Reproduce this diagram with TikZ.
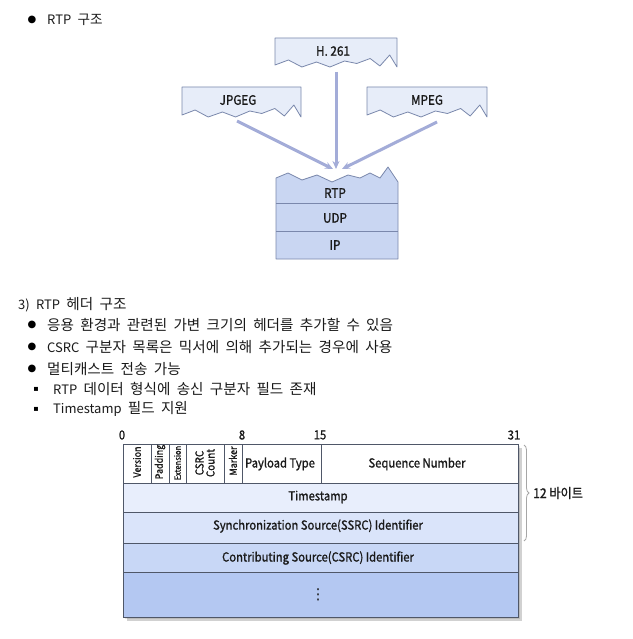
\documentclass[tikz,border=0pt]{standalone}
\usepackage{fontspec}
\setmainfont{Noto Sans CJK KR}
\newfontfamily\kr{Noto Sans CJK KR}
\newfontfamily\dg[FakeStretch=0.9,FakeBold=1.2]{Noto Sans CJK KR}
\newfontfamily\sym{DejaVu Sans}
\newcommand\latn[1]{{\fontsize{13}{15}\selectfont #1}}
\newcommand\bodyfont{\kr\fontsize{14.6}{17}\selectfont\spaceskip 6.3pt\relax}
\usetikzlibrary{arrows.meta,decorations.pathreplacing}
\definecolor{boxline}{HTML}{7A88AC}
\definecolor{topfill}{HTML}{E7EDF9}
\definecolor{stackfill}{HTML}{C9D6F2}
\definecolor{arrowc}{HTML}{A3ACD8}
\definecolor{tline}{HTML}{4F5768}
\definecolor{rowA}{HTML}{E8EEFC}
\definecolor{rowB}{HTML}{DAE4FA}
\definecolor{rowC}{HTML}{C8D7F6}
\definecolor{rowD}{HTML}{B4C8F2}
\definecolor{txt}{HTML}{1A1A1A}
\tikzset{
  bodytext/.style={anchor=west,inner sep=0pt,font=\bodyfont,text=txt},
  bul/.style={inner sep=0pt,font=\sym\fontsize{10}{12}\selectfont},
  sqbul/.style={inner sep=0pt,font=\sym\fontsize{8}{10}\selectfont},
  lbl/.style={inner sep=0pt,font=\dg\fontsize{13}{15}\selectfont,text=txt},
  tlbl/.style={inner sep=0pt,font=\dg\fontsize{12.5}{14}\selectfont,text=txt},
  rlbl/.style={inner sep=0pt,rotate=90,font=\dg\fontsize{10}{9.5}\selectfont,text=txt,align=center},
  numlbl/.style={inner sep=0pt,font=\dg\fontsize{12.5}{14}\selectfont,text=txt},
  topbox/.style={fill=topfill,draw=boxline,line width=0.8pt,line join=round},
  stack/.style={fill=stackfill,draw=boxline,line width=0.8pt,line join=round},
  flow/.style={draw=arrowc,line width=3pt,-{Stealth[length=8pt,width=7pt]}},
  cell/.style={draw=tline,line width=0.8pt},
}
\newcommand\wavebox[5]{%
\filldraw[#5] (#1,#3) -- (#2,#3) -- (#2,#4)
 -- ({#1+.94*(#2-#1)},{#4-12}) -- ({#1+.86*(#2-#1)},{#4-1}) -- ({#1+.78*(#2-#1)},{#4-8.5})
 -- ({#1+.67*(#2-#1)},{#4-3.5}) -- ({#1+.57*(#2-#1)},{#4-6}) -- ({#1+.45*(#2-#1)},{#4})
 -- ({#1+.34*(#2-#1)},{#4-5}) -- ({#1+.22*(#2-#1)},{#4}) -- ({#1+.11*(#2-#1)},{#4-7})
 -- (#1,{#4-2}) -- cycle;}
\begin{document}
\begin{tikzpicture}[x=1pt,y=-1pt]
\useasboundingbox[fill=white] (0,0) rectangle (632,639);

% ---------- top text ----------
\node[bul] (b0) at (32,20) {●};
\node[bodytext,font=\kr\fontsize{13.6}{16}\selectfont\spaceskip 6.3pt\relax] (t0) at (47,20) {\latn{RTP} 구조};

% ---------- top diagram ----------
\wavebox{275}{397}{38}{67}{topbox}
\wavebox{182}{301}{87}{117}{topbox}
\wavebox{367}{487}{87}{117}{topbox}
\node[lbl] (h261) at (333,51) {H. 261};
\node[lbl] (jpg) at (238,100) {JPGEG};
\node[lbl] (mpeg) at (427,100) {MPEG};

% RTP stack
\filldraw[stack] (276,259) -- (398,259) -- (398,182)
 -- (388,167) -- (380,178) -- (370,173) -- (360,178) -- (348,175) -- (332,182)
 -- (317,175) -- (302,180) -- (288,173) -- (276,178) -- cycle;
\draw[boxline,line width=0.8pt] (276,203) -- (398,203);
\draw[boxline,line width=0.8pt] (276,231) -- (398,231);
\node[lbl] (rtp) at (335,193) {RTP};
\node[lbl] (udp) at (335,218) {UDP};
\node[lbl] (ip) at (335,245) {IP};

\coordinate (jpgOut) at (237,121);
\coordinate (h261Out) at (336,72);
\coordinate (mpegOut) at (437,122);
\coordinate (rtpIn1) at (333,169);
\coordinate (rtpIn2) at (336,169);
\coordinate (rtpIn3) at (342,169);
\draw[flow] (jpgOut) -- (rtpIn1);
\draw[flow] (h261Out) -- (rtpIn2);
\draw[flow] (mpegOut) -- (rtpIn3);

% ---------- middle text ----------
\node[bodytext] (s3) at (18,305) {\latn{3) RTP} 헤더 구조};
\node[bul] (b1) at (32,325) {●};
\node[bodytext] (t1) at (47,325) {응용 환경과 관련된 가변 크기의 헤더를 추가할 수 있음};
\node[bul] (b2) at (32,347) {●};
\node[bodytext] (t2) at (47,347) {\latn{CSRC} 구분자 목록은 믹서에 의해 추가되는 경우에 사용};
\node[bul] (b3) at (32,369) {●};
\node[bodytext] (t3) at (47,369) {멀티캐스트 전송 가능};
\node[sqbul] (q1) at (36,389) {▪};
\node[bodytext] (t4) at (53,389) {\latn{RTP} 데이터 형식에 송신 구분자 필드 존재};
\node[sqbul] (q2) at (36,409) {▪};
\node[bodytext] (t5) at (53,409) {\latn{Timestamp} 필드 지원};

% ---------- header table ----------
\fill[black,opacity=0.18] (127,448) rectangle (522,621);
\fill[black,opacity=0.10] (125,446) rectangle (520,619);
\fill[white] (123,444) rectangle (518,483);
\fill[rowA] (123,483) rectangle (518,512);
\fill[rowB] (123,512) rectangle (518,543);
\fill[rowC] (123,543) rectangle (518,572);
\fill[rowD] (123,572) rectangle (518,617);
\draw[cell] (123,444) rectangle (518,617);
\foreach \yy in {483,512,543,572} \draw[cell] (123,\yy) -- (518,\yy);
\foreach \xx in {151,169,186,224,242,321} \draw[cell] (\xx,444) -- (\xx,483);

\node[numlbl] (n0) at (122,435) {0};
\node[numlbl] (n8) at (242,435) {8};
\node[numlbl] (n15) at (320,435) {15};
\node[numlbl] (n31) at (514,435) {31};

\node[rlbl] (ver) at (137,462) {Version};
\node[rlbl] (pad) at (160,462) {Padding};
\node[rlbl,font=\dg\fontsize{8.5}{9}\selectfont] (ext) at (177.5,463) {Extension};
\node[rlbl,font=\dg\fontsize{11}{11}\selectfont] (cc) at (205,463) {CSRC\\Count};
\node[rlbl] (mk) at (233,461) {Marker};
\node[tlbl] (pt) at (280,464) {Payload Type};
\node[tlbl] (sn) at (417,464) {Sequence Number};
\node[tlbl] (ts) at (318,497) {Timestamp};
\node[tlbl] (ssrc) at (318,526) {Synchronization Source(SSRC) Identifier};
\node[tlbl] (csrc) at (318,558) {Contributing Source(CSRC) Identifier};
\node[inner sep=0pt,font=\sym\fontsize{15}{16}\selectfont,text=txt] (dots) at (318,595) {⋮};

\coordinate (brTop) at (524,445);
\coordinate (brBot) at (524,541);
\draw[decorate,decoration={brace,amplitude=5pt},draw=gray!70,line width=0.8pt] (brTop) -- (brBot);
\node[tlbl,anchor=west,font=\dg\fontsize{13.5}{15}\selectfont] (bytes) at (533,493) {12 바이트};
\end{tikzpicture}
\end{document}
